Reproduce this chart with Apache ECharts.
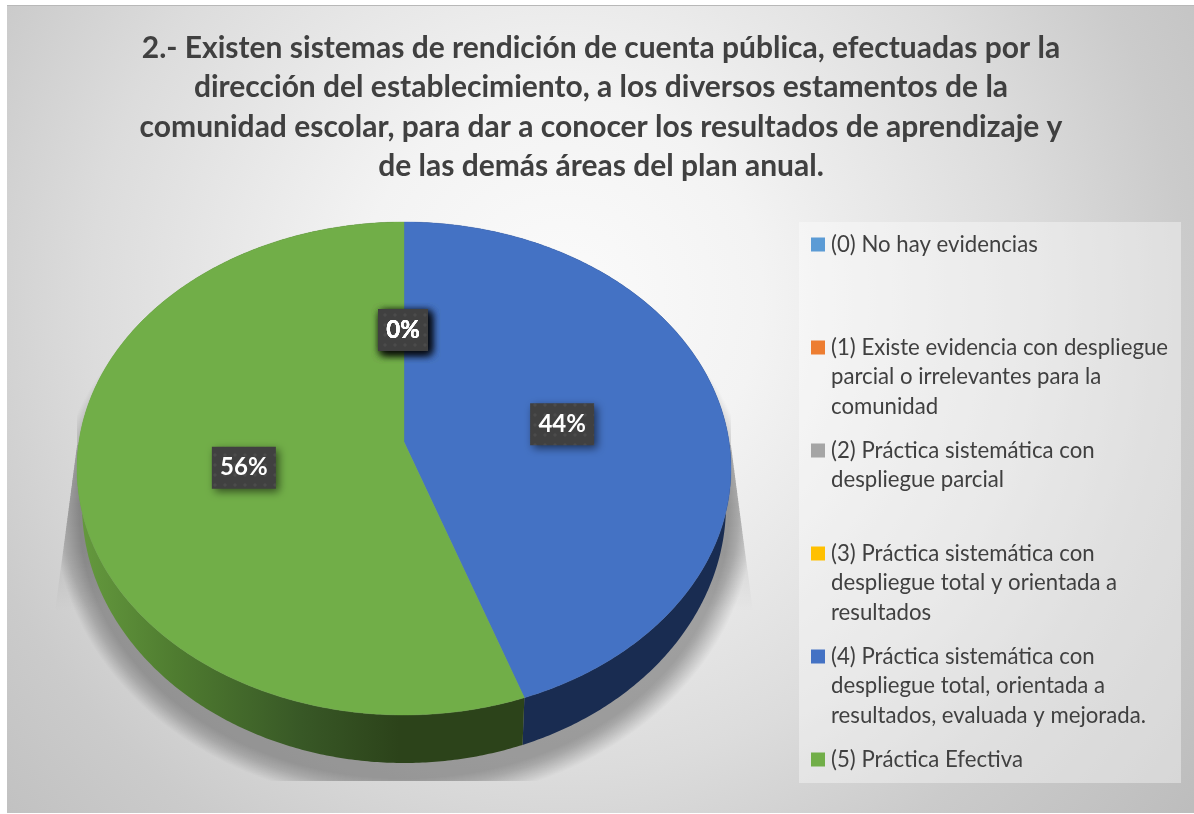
<!DOCTYPE html>
<html>
<head>
<meta charset="utf-8">
<script src="https://cdn.jsdelivr.net/npm/echarts@6/dist/echarts.min.js"></script>
<style>
html,body{margin:0;padding:0;background:#fff;overflow:hidden}
#main{position:absolute;left:0;top:0;width:1194px;height:814px}
</style>
</head>
<body>
<div id="main"></div>
<script>
// ---------- data ----------
const titleLines = [
  '2.- Existen sistemas de rendición de cuenta pública, efectuadas por la',
  'dirección del establecimiento, a los diversos estamentos de la',
  'comunidad escolar, para dar a conocer los resultados de aprendizaje y',
  'de las demás áreas del plan anual.'
];
const categoryLines = [
  ['(0) No hay evidencias'],
  ['(1) Existe evidencia con despliegue', 'parcial o irrelevantes para la', 'comunidad'],
  ['(2) Práctica sistemática con', 'despliegue parcial'],
  ['(3) Práctica sistemática con', 'despliegue total y orientada a', 'resultados'],
  ['(4) Práctica sistemática con', 'despliegue total, orientada a', 'resultados, evaluada y mejorada.'],
  ['(5) Práctica Efectiva']
];
const sliceValues = [0, 0, 0, 0, 44, 56];

// ---------- styles ----------
const sliceColors = ['#5b9bd5', '#ed7d31', '#a5a5a5', '#ffc000', '#4472c4', '#71ae48'];
const wallColors = ['#2f5f8a', '#8a4a1c', '#5f5f5f', '#8f6c00', '#192c51', {
  type: 'linear', x: 0, y: 0, x2: 1, y2: 0,
  colorStops: [
    { offset: 0, color: '#659a3e' },
    { offset: 0.22, color: '#4f7c30' },
    { offset: 0.5, color: '#385826' },
    { offset: 0.72, color: '#2c431a' },
    { offset: 1, color: '#2c431a' }
  ]
}];
const FONT = 'Lato, Carlito, "Open Sans", sans-serif';

// ---------- pie projection ----------
const topFace = { cx: 404, cy: 468.5, rx: 327, ry: 246.5 };
const bottomFace = { cx: 404, cy: 505, rx: 322, ry: 258 };
const apex = { x: 404, y: 442 };
const labelRing = { cx: 403, cy: 446, rx: 162, ry: 116 };

const categories = categoryLines.map(l => l.join(' '));
const total = sliceValues.reduce((a, b) => a + b, 0);
const startValue = i => sliceValues.slice(0, i).reduce((a, b) => a + b, 0);
const toAngle = v => v / total * Math.PI * 2;
const onEllipse = (e, a) => [e.cx + e.rx * Math.sin(a), e.cy - e.ry * Math.cos(a)];
function arc(e, a0, a1) {
  const n = Math.max(2, Math.ceil((a1 - a0) / 0.01));
  const pts = [];
  for (let k = 0; k <= n; k++) pts.push(onEllipse(e, a0 + (a1 - a0) * k / n));
  return pts;
}

function renderSlice(i) {
  return function (params, api) {
    const v = api.value(0);
    if (!v) return { type: 'group', children: [] };
    const a0 = toAngle(startValue(i));
    const a1 = a0 + toAngle(v);
    const top = arc(topFace, a0, a1);
    const bottom = arc(bottomFace, a0, a1).reverse();
    return {
      type: 'group',
      children: [
        { type: 'polygon', z2: 1, shape: { points: top.concat(bottom) },
          style: { fill: wallColors[i] } },
        { type: 'polygon', z2: 2, shape: { points: [[apex.x, apex.y]].concat(top) },
          style: { fill: sliceColors[i], stroke: sliceColors[i], lineWidth: 0.4 } }
      ]
    };
  };
}

// dotted fill of the data-label boxes
const dots = document.createElement('canvas');
dots.width = dots.height = 10;
(function () {
  const c = dots.getContext('2d');
  c.fillStyle = '#404040'; c.fillRect(0, 0, 10, 10);
  c.fillStyle = '#4b4b4b'; c.fillRect(4, 4, 2, 2);
  c.fillStyle = '#464646'; c.fillRect(3, 4, 1, 2); c.fillRect(6, 4, 1, 2); c.fillRect(4, 3, 2, 1); c.fillRect(4, 6, 2, 1);
})();
const labelFont = 'bold 24px ' + FONT;
const meter = document.createElement('canvas').getContext('2d');
meter.font = labelFont;

function renderLabel(params, api) {
  const i = params.dataIndex;
  const v = api.value(0);
  const mid = toAngle(startValue(i) + v / 2);
  const [x, y] = onEllipse(labelRing, mid);
  const text = Math.round(v / total * 100) + '%';
  const w = Math.round(meter.measureText(text).width) + 16;
  const h = 42;
  return {
    type: 'group',
    children: [
      { type: 'rect', z2: 1, shape: { x: x - w / 2, y: y - h / 2, width: w, height: h },
        style: { fill: { image: dots, repeat: 'repeat' }, shadowBlur: 8, shadowOffsetX: 3, shadowOffsetY: 3, shadowColor: 'rgba(0,0,0,0.55)' } },
      { type: 'text', z2: 2, style: { x: x, y: y, text: text, fill: '#fff', font: labelFont, align: 'center', verticalAlign: 'middle' } }
    ]
  };
}

function renderShadow() {
  const vFade = { type: 'linear', x: 0, y: 0, x2: 0, y2: 1, colorStops: [
    { offset: 0, color: 'rgba(0,0,0,0.13)' }, { offset: 0.65, color: 'rgba(0,0,0,0.08)' }, { offset: 1, color: 'rgba(0,0,0,0)' } ] };
  const children = [
    { type: 'polygon', shape: { points: [[77, 445], [55, 612], [120, 612], [120, 445]] }, style: { fill: vFade } },
    { type: 'polygon', shape: { points: [[731, 445], [753, 612], [690, 612], [690, 445]] }, style: { fill: vFade } }
  ];
  // soft fall-off: nested translucent ellipses, cut by the shadow's wedge and floor
  const castArea = [[77, 300], [77, 445], [55, 612], [55, 781], [753, 781], [753, 612], [731, 445], [731, 300]];
  for (let d = 24; d >= 0; d--) {
    const e = { cx: bottomFace.cx, cy: bottomFace.cy + 10, rx: bottomFace.rx + 3 + d, ry: bottomFace.ry + 6 + d };
    children.push({
      type: 'polygon', shape: { points: arc(e, 0, Math.PI * 2) },
      clipPath: { type: 'polygon', shape: { points: castArea } },
      style: { fill: 'rgba(0,0,0,0.01)' }
    });
  }
  return { type: 'group', children: children };
}

const sliceSeries = categories.map((name, i) => ({
  type: 'custom', name: name, coordinateSystem: 'none', z: 3, silent: true,
  itemStyle: { color: sliceColors[i] },
  data: [[sliceValues[i]]],
  renderItem: renderSlice(i)
}));

const legends = categories.map((name, i) => {
  const n = categoryLines[i].length;
  const lh = 29.5;
  const rows = 2 * n - 1;
  return {
    data: [name], orient: 'vertical', left: 811, padding: 0,
    top: 244.5 + 103 * i - rows * lh / 2,
    icon: 'rect', itemWidth: 14, itemHeight: 14, selectedMode: false,
    formatter: () => '\n'.repeat(n - 1) + categoryLines[i].join('\n'),
    textStyle: { fontFamily: FONT, fontSize: 22.2, lineHeight: lh, color: '#404040', padding: [0, 0, 0, 1] }
  };
});

const chart = echarts.init(document.getElementById('main'), null, { renderer: 'canvas' });
chart.setOption({
  animation: false,
  backgroundColor: '#fff',
  graphic: [
    { type: 'rect', z: -10, shape: { x: 7, y: 6, width: 1187, height: 807 }, silent: true,
      style: { fill: { type: 'radial', x: 560, y: 300, r: 810, global: true, colorStops: [
        { offset: 0, color: '#fbfbfb' },
        { offset: 0.25, color: '#f3f3f3' },
        { offset: 0.58, color: '#dcdcdc' },
        { offset: 0.77, color: '#cbcbcb' },
        { offset: 1, color: '#bdbdbd' } ] } } },
    { type: 'rect', z: -10, shape: { x: 7, y: 5, width: 1187, height: 1 }, silent: true, style: { fill: '#b8b8b8' } },
    { type: 'rect', z: -9, shape: { x: 799, y: 222, width: 382, height: 561 }, silent: true,
      style: { fill: 'rgba(255,255,255,0.38)' } }
  ],
  title: {
    text: titleLines.join('\n'), left: 601, top: 29, textAlign: 'center', padding: 0,
    textStyle: { fontFamily: FONT, fontWeight: 'bold', fontSize: 30, lineHeight: 39.2, color: '#404040' }
  },
  legend: legends,
  series: [
    { type: 'custom', name: 'sombra', coordinateSystem: 'none', z: 1, silent: true, data: [[1]], renderItem: renderShadow }
  ].concat(sliceSeries, [
    { type: 'custom', name: 'etiquetas', coordinateSystem: 'none', z: 5, silent: true,
      data: sliceValues.map(v => [v]), renderItem: renderLabel }
  ])
});
</script>
</body>
</html>
